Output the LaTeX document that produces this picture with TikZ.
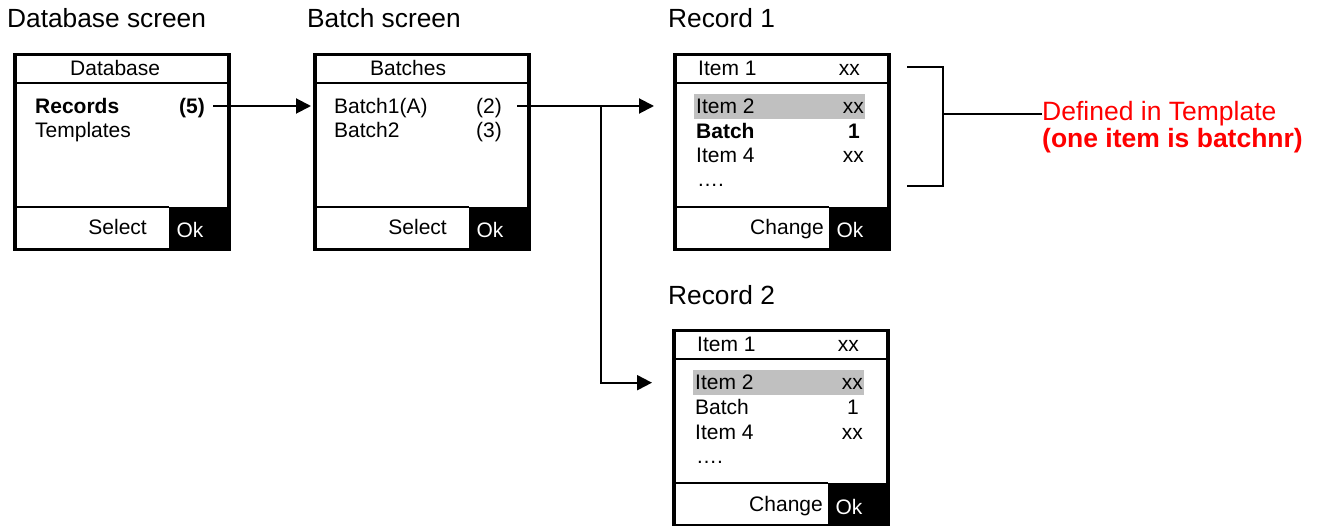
\documentclass[tikz,border=0pt]{standalone}
\usepackage{fontspec}
\setmainfont{Liberation Sans}
\usetikzlibrary{arrows.meta,positioning,calc}
\definecolor{selgray}{RGB}{192,192,192}
\definecolor{notered}{RGB}{255,0,0}

\begin{document}
\begin{tikzpicture}[x=1pt, y=-1pt,
  frame/.style={draw, line width=3.5pt, anchor=north west, minimum width=214pt, minimum height=195pt, inner sep=0pt},
  sep/.style={line width=2pt},
  txt/.style={inner sep=0pt, text height=16pt, text depth=0pt, font=\fontsize{21}{25}\selectfont},
  title/.style={inner sep=0pt, anchor=base west, font=\fontsize{26.3}{30}\selectfont},
  okkey/.style={txt, anchor=base, text=white},
  hilite/.style={fill=selgray, anchor=north west, minimum width=171pt, minimum height=25pt, inner sep=0pt},
  arr/.style={line width=2pt, -{Triangle[length=15pt, width=15pt]}},
  lnk/.style={line width=2pt},
  note/.style={inner sep=0pt, anchor=base west, text=notered, text height=19pt, text depth=5pt, font=\fontsize{26.5}{30}\selectfont}]

\useasboundingbox (0,0) rectangle (1320,526);

% Titles
\node[title] (db-head) at (7,28) {Database screen};
\node[title] (bat-head) at (307,28) {Batch screen};
\node[title] (rec1-head) at (668,28) {Record 1};
\node[title] (rec2-head) at (668,305) {Record 2};

% Database screen
\begin{scope}[shift={(13,53)}]
\node[frame] (db) at (0,0) {};
\draw[sep] (0,30) -- (214,30);
\draw[sep] (0,154) -- (156,154);
\fill (156,154) rectangle (214,195);
\node[txt, anchor=base west] (db-title) at (57,23) {Database};
\node[txt, anchor=base west] (db-rec) at (22,61) {\textbf{Records}};
\node[txt, anchor=base east] (db-cnt) at (192,61) {\textbf{(5)}};
\node[txt, anchor=base west] (db-tpl) at (22,85) {Templates};
\node[txt, anchor=base east] (db-sel) at (134,182) {Select};
\node[okkey] (db-ok) at (177,185) {Ok};
\end{scope}

% Batch screen
\begin{scope}[shift={(313,53)}]
\node[frame] (bat) at (0,0) {};
\draw[sep] (0,30) -- (214,30);
\draw[sep] (0,154) -- (156,154);
\fill (156,154) rectangle (214,195);
\node[txt, anchor=base west] (bat-title) at (57,23) {Batches};
\node[txt, anchor=base west] (bat-b1) at (21,61) {Batch1(A)};
\node[txt, anchor=base east] (bat-cnt) at (189,61) {(2)};
\node[txt, anchor=base west] (bat-b2) at (21,85) {Batch2};
\node[txt, anchor=base east] (bat-cnt2) at (189,85) {(3)};
\node[txt, anchor=base east] (bat-sel) at (134,182) {Select};
\node[okkey] (bat-ok) at (177,185) {Ok};
\end{scope}

% Record 1
\begin{scope}[shift={(673,53)}]
\node[frame] (rec1) at (0,0) {};
\draw[sep] (0,30) -- (214,30);
\draw[sep] (0,154) -- (156,154);
\fill (156,154) rectangle (214,195);
\node[hilite] (rec1-sel) at (21,41) {};
\node[txt, anchor=base west] (rec1-i1) at (25,23) {Item 1};
\node[txt, anchor=base east] (rec1-v1) at (187,23) {xx};
\foreach \lbl/\val/\vx/\ly [count=\i] in {Item 2/xx/191/61, \textbf{Batch}/\textbf{1}/187/86, Item 4/xx/191/110} {
  \node[txt, anchor=base west] (rec1-l\i) at (23,\ly) {\lbl};
  \node[txt, anchor=base east] (rec1-r\i) at (\vx,\ly) {\val};
}
\node[txt, anchor=base west] (rec1-more) at (24,134) {….};
\node[txt, anchor=base east] (rec1-chg) at (151,182) {Change};
\node[okkey] (rec1-ok) at (177,185) {Ok};
\end{scope}

% Record 2
\begin{scope}[shift={(672,329)}]
\node[frame] (rec2) at (0,0) {};
\draw[sep] (0,30) -- (214,30);
\draw[sep] (0,154) -- (156,154);
\fill (156,154) rectangle (214,195);
\node[hilite] (rec2-sel) at (21,41) {};
\node[txt, anchor=base west] (rec2-i1) at (25,23) {Item 1};
\node[txt, anchor=base east] (rec2-v1) at (187,23) {xx};
\foreach \lbl/\val/\vx/\ly [count=\i] in {Item 2/xx/191/61, Batch/1/187/86, Item 4/xx/191/110} {
  \node[txt, anchor=base west] (rec2-l\i) at (23,\ly) {\lbl};
  \node[txt, anchor=base east] (rec2-r\i) at (\vx,\ly) {\val};
}
\node[txt, anchor=base west] (rec2-more) at (24,134) {….};
\node[txt, anchor=base east] (rec2-chg) at (151,182) {Change};
\node[okkey] (rec2-ok) at (177,185) {Ok};
\end{scope}

% Arrows between screens
\draw[arr] ([xshift=8pt]db-cnt.east) -- ([xshift=-2pt]db-cnt.east -| bat.west);
\draw[arr] ([xshift=15pt]bat-cnt.east) -- ([xshift=-19pt]bat-cnt.east -| rec1.west);
\coordinate (split) at (bat-cnt.east -| 601,0);
\draw[arr] (split) |- ($(rec2.west |- rec2-sel)+(-20,0)$);

% Template bracket
\node[note] (note) at (1042,121) {Defined in Template};
\node[note] (note2) at (1042,148) {\textbf{(one item is batchnr)}};
\draw[lnk] (907,67) -| (943,186) -- (907,186);
\draw[lnk] (note.west -| 943,0) -- (note.west);

\end{tikzpicture}
\end{document}
